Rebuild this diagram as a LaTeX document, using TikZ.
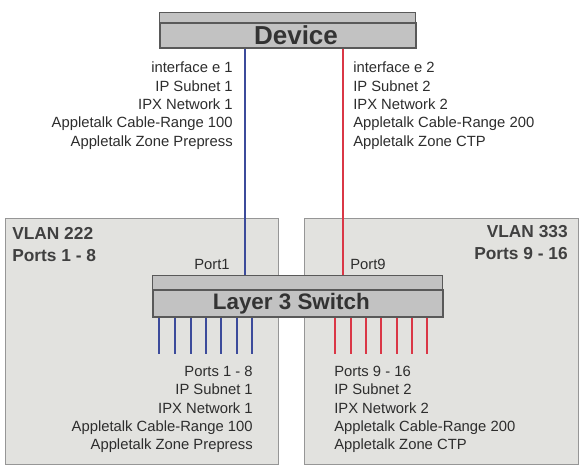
\documentclass[tikz,border=0pt]{standalone}
\usepackage{fontspec}
\setmainfont{Liberation Sans}
\usetikzlibrary{positioning}
\definecolor{boxgray}{RGB}{226,226,223}
\definecolor{edgegray}{RGB}{150,150,150}
\definecolor{devgray}{RGB}{194,194,194}
\definecolor{linkblue}{RGB}{60,75,155}
\definecolor{linkred}{RGB}{218,55,70}
\definecolor{txtgray}{RGB}{45,45,45}
\tikzset{vlan box/.style={draw=edgegray,fill=boxgray,line width=0.9pt,minimum width=205pt,minimum height=185pt,inner sep=0pt},
	dev box/.style={draw=black!65,fill=devgray,line width=0.8pt,inner sep=0pt,text=black!80,font=\fontsize{19.5}{21}\selectfont\bfseries},
	info text/.style={text=txtgray,font=\fontsize{11.1}{13.7}\selectfont,inner sep=0pt},
	vlan text/.style={text=black!75,font=\fontsize{13}{16.5}\selectfont\bfseries,inner sep=0pt,align=left},
	blue link/.style={draw=linkblue,line width=1.5pt},
	red link/.style={draw=linkred,line width=1.5pt},
}
\begin{document}
\begin{tikzpicture}[x=0.75pt,y=-0.75pt]
	\useasboundingbox[fill=white] (0,0) rectangle (582,468);
	% the two vlans
	\node[vlan box] (v222) at (142,341.5) {};
	\node[vlan box] (v333) at (441.5,341.5) {};
	\node[vlan text,anchor=north west] (v222txt) at (12,227) {VLAN 222\\Ports 1 - 8};
	\node[vlan text,anchor=north east,align=right] (v333txt) at (568,225) {VLAN 333\\Ports 9 - 16};
	
	% device and switch
	\node[dev box,minimum width=192pt,minimum height=18.75pt] (dev) at (288,35.5) {\hspace*{12pt}Device};
	\draw[dev box] (dev.north west) rectangle ++(256,-10);
	\coordinate (p1) at (245,276);
	\coordinate (p9) at (343,276);
	\path[blue link] (dev.south -| p1) -- (p1);
	\path[red link] (dev.south -| p9) -- (p9);
	\node[dev box,minimum width=217.5pt,minimum height=20.25pt,font=\fontsize{16.8}{18}\selectfont\bfseries] (sw) at (298,303.5) {Layer 3 Switch\hspace*{10pt}};
	\draw[dev box] (sw.north west) rectangle ++(290,-14);
	\node[info text] (port1) at (212,264) {Port1};
	\node[info text] (port9) at (368,264) {Port9};
	
	% port stubs
	\foreach \x in {159,175,191,206,221,237,252}
		\draw[blue link,line width=2.2pt] (sw.south -| \x,0) -- ++(0,36);
	\foreach \x in {335,351,366,381,397,412,427}
		\draw[red link,line width=2.2pt] (sw.south -| \x,0) -- ++(0,36);
	
	% interface settings
	\node[info text,align=right,anchor=north east] (if1) at (233,62) {interface e 1\\IP Subnet 1\\IPX Network 1\\Appletalk Cable-Range 100\\Appletalk Zone Prepress};
	\node[info text,align=left,anchor=north west] (if2) at (353,62) {interface e 2\\IP Subnet 2\\IPX Network 2\\Appletalk Cable-Range 200\\Appletalk Zone CTP};
	\node[info text,align=right,anchor=north east] (pt1) at (253,366) {Ports 1 - 8\\IP Subnet 1\\IPX Network 1\\Appletalk Cable-Range 100\\Appletalk Zone Prepress};
	\node[info text,align=left,anchor=north west] (pt2) at (334,366) {Ports 9 - 16\\IP Subnet 2\\IPX Network 2\\Appletalk Cable-Range 200\\Appletalk Zone CTP};
\end{tikzpicture}
\end{document}
